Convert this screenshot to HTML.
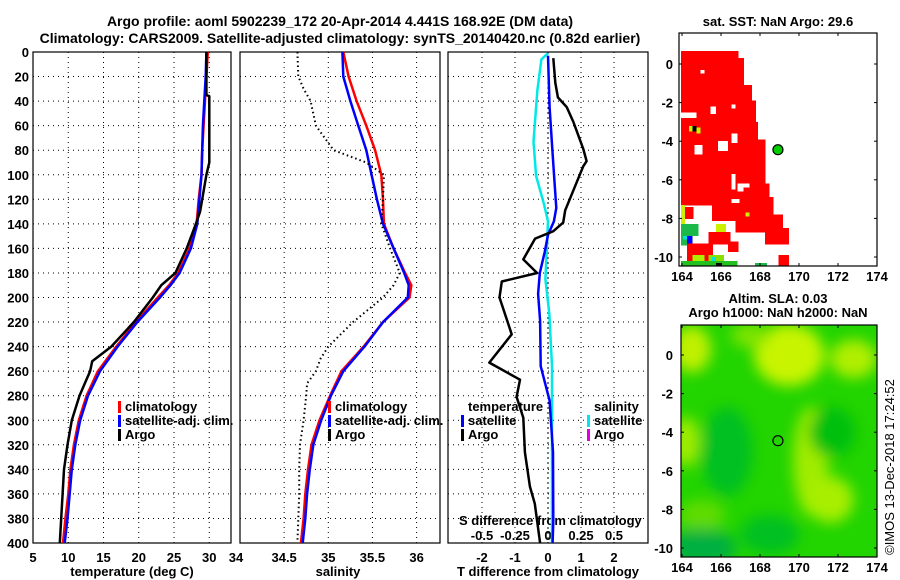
<!DOCTYPE html>
<html><head><meta charset="utf-8">
<style>
html,body{margin:0;padding:0;background:#fff;}
svg{display:block;font-family:"Liberation Sans",sans-serif;font-weight:bold;}
</style></head>
<body>
<svg id="chart" width="900" height="580" viewBox="0 0 900 580" xmlns="http://www.w3.org/2000/svg">
<defs>
<clipPath id="cp1"><rect x="33" y="52" width="198" height="491"/></clipPath>
<clipPath id="cp2"><rect x="240" y="52" width="200" height="491"/></clipPath>
<clipPath id="cp3"><rect x="448" y="52" width="200" height="491"/></clipPath>
<clipPath id="cpm1"><rect x="679" y="33" width="198" height="233"/></clipPath>
<clipPath id="cpm2"><rect x="681" y="325" width="196" height="232"/></clipPath>
<filter id="blur" x="-20%" y="-20%" width="140%" height="140%"><feGaussianBlur stdDeviation="7"/></filter>
</defs>
<text x="340" y="26" font-size="14" text-anchor="middle">Argo profile: aoml 5902239_172 20-Apr-2014 4.441S 168.92E (DM data)</text>
<text x="340" y="43" font-size="14" text-anchor="middle">Climatology: CARS2009. Satellite-adjusted climatology: synTS_20140420.nc (0.82d earlier)</text>
<text x="778" y="26" font-size="13" text-anchor="middle">sat. SST: NaN Argo: 29.6</text>
<text x="778" y="303" font-size="13" text-anchor="middle">Altim. SLA: 0.03</text>
<text x="778" y="317" font-size="13" text-anchor="middle">Argo h1000: NaN h2000: NaN</text>
<text transform="translate(894,467) rotate(-90)" font-size="13" font-weight="normal" text-anchor="middle">©IMOS 13-Dec-2018 17:24:52</text>
<g id="g"></g>
</svg>
<script>
// ---- data ----
const depthTicks=[0,20,40,60,80,100,120,140,160,180,200,220,240,260,280,300,320,340,360,380,400];
const tempTicks=[5,10,15,20,25,30];
const salTicks=[34,34.5,35,35.5,36];
const tdiffTicks=[-2,-1,0,1,2];
const sdiffTicks=[-0.5,-0.25,0,0.25,0.5];
const sdiffLabels=["-0.5","-0.25","0","0.25","0.5"];
const stdDepth=[0,20,40,60,80,100,120,140,160,180,190,200,220,240,260,280,300,320,340,360,380,400];
const tempClim=[29.8,29.6,29.4,29.2,29.0,28.9,28.5,28.2,27.2,25.6,24.3,22.7,19.6,16.8,14.2,12.6,11.5,10.8,10.3,10.0,9.6,9.25];
const tempSat=[29.6,29.5,29.3,29.1,29.0,28.9,28.6,28.3,27.4,25.8,24.5,23.0,19.8,17.0,14.5,12.8,11.7,11.0,10.5,10.2,9.9,9.5];
const argoTDepth=[0,35,36,90,100,120,130,140,160,180,190,200,220,240,252,260,280,300,320,340,360,380,400];
const argoTemp=[29.6,29.6,30.0,30.0,29.6,29.0,28.7,28.1,26.8,25.2,23.2,22.0,19.3,16.1,13.4,13.1,11.6,10.5,9.9,9.4,9.2,9.0,8.8];
const salClim=[35.17,35.23,35.32,35.43,35.53,35.60,35.62,35.63,35.74,35.87,35.94,35.92,35.62,35.40,35.15,35.02,34.90,34.81,34.77,34.74,34.72,34.69];
const salSat=[35.16,35.17,35.25,35.34,35.43,35.49,35.55,35.62,35.74,35.86,35.91,35.90,35.62,35.41,35.17,35.03,34.92,34.83,34.79,34.76,34.74,34.71];
const argoSDepth=[0,20,30,40,60,80,90,100,120,140,160,180,190,200,220,240,250,260,270,280,300,320,340,360,400];
const argoSal=[34.65,34.66,34.72,34.80,34.86,35.06,35.43,35.63,35.62,35.60,35.70,35.81,35.74,35.62,35.28,35.00,34.91,34.86,34.76,34.75,34.72,34.68,34.67,34.67,34.65];
const tdArgoDepth=[5,25,37,45,57,79,89,93,129,139,146,152,169,180,187,200,230,253,267,281,298,326,354,368,400];
const tdArgo=[0.16,0.22,0.30,0.57,0.77,1.07,1.17,1.07,0.52,0.46,0.16,-0.39,-0.75,-0.33,-1.40,-1.47,-1.10,-1.78,-0.85,-0.95,-0.75,-0.70,-0.55,-0.40,-0.24];
const tdSatDepth=[3,45,79,107,127,138,149,163,180,197,219,256,284,326,382,400];
const tdSat=[0,0.05,0.13,0.20,0.25,0.18,0.0,-0.10,-0.25,-0.30,-0.24,-0.22,0.05,0.15,0.16,0.14];
const sdSatDepth=[1,6,31,73,101,124,138,163,185,213,256,298,400];
const sdSat=[0,-0.05,-0.08,-0.11,-0.09,-0.03,0.0,-0.01,-0.02,0.01,0.03,0.03,0.03];
const lonTicks=[164,166,168,170,172,174];
const latTicks=[0,-2,-4,-6,-8,-10];
const argoLon=168.92, argoLat=-4.441;
// SST map cells: [lon0,lat0,lon1,lat1,color]
const sstCells=[
[164,0.67,166.9,-7.3,"#f00"],[166.9,0.3,167.2,-7.3,"#f00"],[167.2,-1.1,167.6,-7.8,"#f00"],[167.6,-1.9,167.8,-8.1,"#f00"],
[167.8,-3,167.9,-8.4,"#f00"],[167.9,-3.9,168.3,-8.4,"#f00"],[168.3,-6.2,168.5,-8.4,"#f00"],[168.5,-6.9,168.7,-8.4,"#f00"],
[168.7,-7.8,169.2,-9.3,"#f00"],[169.2,-8.5,169.5,-9.3,"#f00"],[165.6,-7.3,168.7,-8.1,"#f00"],[166.8,-8.1,168.3,-8.7,"#f00"],
[168.3,-8.4,168.7,-9.3,"#f00"],[165.4,-8.7,166.5,-9.3,"#f00"],[164.3,-9.3,165.6,-10.3,"#f00"],[166.4,-9.2,166.9,-9.7,"#f00"],
[169.0,-9.9,169.5,-10.5,"#f00"],[164.2,-7.4,164.6,-8.0,"#f00"],
[164,-2.5,164.8,-2.8,"#fff"],[165.5,-2.2,165.8,-2.6,"#fff"],[166.6,-3.6,166.9,-4.1,"#fff"],[165.9,-4.0,166.4,-4.5,"#fff"],
[164.7,-4.2,165.1,-4.7,"#fff"],[166.9,-6.2,167.2,-6.6,"#fff"],[166.6,-5.7,166.8,-6.5,"#fff"],[167.1,-6.2,167.5,-6.4,"#fff"],
[166.6,-7.0,167.0,-7.2,"#fff"],[165.0,-0.3,165.2,-0.5,"#fff"],[166.6,-2.1,166.8,-2.3,"#fff"],
[164,-7.3,164.2,-8.3,"#ccf000"],[164.6,-3.2,164.8,-3.5,"#000"],[164.4,-3.2,164.6,-3.5,"#ccf000"],[164.8,-3.3,165.0,-3.6,"#ccf000"],
[164,-8.3,164.9,-8.9,"#1bb84a"],[164,-8.9,164.3,-9.4,"#1bb84a"],[164.3,-8.9,164.6,-9.3,"#0000ff"],[164.1,-8.9,164.3,-9.1,"#00e0e0"],
[165.8,-8.3,166.3,-8.7,"#ccf000"],[167.3,-7.7,167.5,-7.9,"#ccf000"],
[164,-10.2,166.9,-10.5,"#22c020"],[164.6,-9.9,165.2,-10.2,"#aaf000"],[165.4,-9.9,166.2,-10.2,"#88e000"],[165.8,-10.3,166.1,-10.5,"#000"],[165.6,-10.0,165.8,-10.2,"#00e0e0"],[167.8,-10.3,168.4,-10.5,"#1bb84a"]
];
// SLA map patches: [lon, lat, rx(deg), ry(deg), color]
const slaPatches=[
[164.5,0.3,1.0,1.2,"#c0f000"],[169.5,0.0,1.8,1.6,"#c8f400"],[172.8,-0.2,1.2,1.0,"#b0ee00"],[167.5,1.0,1.0,0.6,"#80e400"],
[170.6,-5.5,0.9,2.8,"#a0ec00"],[171.6,-7.5,1.2,1.2,"#a8ee00"],[164.2,-4.5,0.7,1.3,"#a0ec00"],[165,-8.3,1.2,0.8,"#60dc00"],
[166.3,-5.0,1.3,2.3,"#00c020"],[171.7,-4.0,1.2,1.3,"#00c010"],[165,-10,1.8,1.0,"#00b040"],[168.5,-9.3,1.5,1.0,"#00c020"]
];
// ---- helpers ----
const NS="http://www.w3.org/2000/svg";
const G=document.getElementById('g');
function mk(tag,attrs,parent){const e=document.createElementNS(NS,tag);for(const k in attrs)e.setAttribute(k,attrs[k]);(parent||G).appendChild(e);return e;}
const yD=d=>52+d*1.2275;
const xT=t=>33+(t-5)*7.05;
const xS=s=>240+(s-34)*88.3;
const xTd=v=>548+v*33;
const xSd=v=>548+v*132;
const lonX=l=>682+(l-164)*19.5;
const latY1=l=>64-l*19.3;
const latY2=l=>355-l*19.3;
function pts(xs,ys,fx){return xs.map((v,i)=>fx(v).toFixed(1)+","+yD(ys[i]).toFixed(1)).join(" ");}

function panel(x0,x1,ticks,fx,name){
  depthTicks.forEach(d=>{if(d>0&&d<400){const l=mk('line',{x1:x0,x2:x1,y1:yD(d),y2:yD(d),stroke:'#000','stroke-width':1,'stroke-dasharray':'1,4'});
  
  }});
  ticks.forEach(t=>{const x=fx(t);if(x>x0+1&&x<x1-1){const l=mk('line',{x1:x,x2:x,y1:52,y2:543,stroke:'#000','stroke-width':1,'stroke-dasharray':'1,4'});
  
  }});
  const r=mk('rect',{x:x0,y:52,width:x1-x0,height:491,fill:'none',stroke:'#000','stroke-width':1.2});
  
  
}
function line(xs,ys,fx,color,w,name,clip,dash){
  const a={points:pts(xs,ys,fx),fill:'none',stroke:color,'stroke-width':w,'clip-path':'url(#'+clip+')','stroke-linejoin':'round'};
  if(dash)a['stroke-dasharray']=dash;
  const p=mk('polyline',a);
  
  
}
function txt(x,y,s,size,anchor,name,color){
  const t=mk('text',{x:x,y:y,'font-size':size,'text-anchor':anchor||'start',fill:color||'#000'});
  t.textContent=s;
  
  
  return t;
}
function legBar(x,y,color,name){
  const r=mk('rect',{x:x,y:y-10,width:3,height:12,fill:color});
  
  
}
// ---- panels ----
panel(33,231,tempTicks,xT,'temp-panel');
panel(240,440,salTicks,xS,'sal-panel');
panel(448,648,tdiffTicks,xTd,'diff-panel');
depthTicks.forEach(d=>txt(29,yD(d)+5,String(d),13,'end','depth-tick-label'));
tempTicks.forEach(t=>txt(xT(t),562,String(t),13,'middle','temp-tick-label'));
txt(236,562,"34",13,'middle','sal-tick-label');
salTicks.slice(1).forEach(s=>txt(xS(s),562,String(s),13,'middle','sal-tick-label'));
tdiffTicks.forEach(t=>txt(xTd(t),562,String(t),13,'middle','tdiff-tick-label'));
sdiffTicks.forEach((t,i)=>txt(xSd(t),540,sdiffLabels[i],13,'middle','sdiff-tick-label'));
txt(459,525,"S difference from climatology",13,'start','sdiff-axis-title');
txt(132,576,"temperature (deg C)",13,'middle','temp-axis-title');
txt(338,576,"salinity",13,'middle','sal-axis-title');
txt(548,576,"T difference from climatology",13,'middle','tdiff-axis-title');
// series
line(tempClim,stdDepth,xT,'#f00',2.5,'temp-climatology-line','cp1');
line(tempSat,stdDepth,xT,'#00f',2.5,'temp-satellite-line','cp1');
line(argoTemp,argoTDepth,xT,'#000',2.5,'temp-argo-line','cp1');
line(salClim,stdDepth,xS,'#f00',2.5,'sal-climatology-line','cp2');
line(salSat,stdDepth,xS,'#00f',2.5,'sal-satellite-line','cp2');
line(argoSal,argoSDepth,xS,'#000',2,'sal-argo-line','cp2','1.5,3');
const z=mk('line',{x1:548,x2:548,y1:52,y2:543,stroke:'#000','stroke-width':1,'stroke-dasharray':'2,3'});


line(sdSat,sdSatDepth,xSd,'#00e8e8',2.5,'sdiff-satellite-line','cp3');
line(tdSat,tdSatDepth,xTd,'#00f',2.5,'tdiff-satellite-line','cp3');
line(tdArgo,tdArgoDepth,xTd,'#000',2.5,'tdiff-argo-line','cp3');
// legends
[[118,411,'#f00','climatology'],[118,425,'#00f','satellite-adj. clim.'],[118,439,'#000','Argo']].forEach(l=>{legBar(l[0],l[1],l[2],'temp-legend-swatch');txt(l[0]+7,l[1],l[3],13,'start','temp-legend-entry');});
[[328,411,'#f00','climatology'],[328,425,'#00f','satellite-adj. clim.'],[328,439,'#000','Argo']].forEach(l=>{legBar(l[0],l[1],l[2],'sal-legend-swatch');txt(l[0]+7,l[1],l[3],13,'start','sal-legend-entry');});
txt(468,411,"temperature",13,'start','diff-legend-temp-title');
legBar(461,425,'#00f','diff-legend-swatch');txt(468,425,"satellite",13,'start','diff-legend-entry');
legBar(461,439,'#000','diff-legend-swatch');txt(468,439,"Argo",13,'start','diff-legend-entry');
txt(594,411,"salinity",13,'start','diff-legend-sal-title');
legBar(587,425,'#00e8e8','diff-legend-swatch');txt(594,425,"satellite",13,'start','diff-legend-entry');
legBar(587,439,'#e000e0','diff-legend-swatch');txt(594,439,"Argo",13,'start','diff-legend-entry');
// ---- maps ----
function mapFrame(x0,y0,w,h,latY,name){
  const r=mk('rect',{x:x0,y:y0,width:w,height:h,fill:'none',stroke:'#000','stroke-width':1.2});
  
  
  lonTicks.forEach(l=>{const x=lonX(l);mk('line',{x1:x,x2:x,y1:y0,y2:y0+3,stroke:'#000'});mk('line',{x1:x,x2:x,y1:y0+h,y2:y0+h-3,stroke:'#000'});
    txt(x,y0+h+15,String(l),13,'middle',name+'-lon-label');});
  latTicks.forEach(l=>{const y=latY(l);mk('line',{x1:x0,x2:x0+3,y1:y,y2:y,stroke:'#000'});mk('line',{x1:x0+w,x2:x0+w-3,y1:y,y2:y,stroke:'#000'});
    txt(673,y+5,String(l),13,'end',name+'-lat-label');});
}
const m1=mk('g',{'clip-path':'url(#cpm1)','shape-rendering':'crispEdges'});


sstCells.forEach(c=>{const x=lonX(c[0])-1,y=latY1(c[1]);const pad=c[4]==='#f00'?0.8:0;const r=mk('rect',{x:x,y:y,width:lonX(c[2])-lonX(c[0])+pad,height:latY1(c[3])-y+pad,fill:c[4]},m1);
  
  });
mapFrame(679,33,198,233,latY1,'sst-map');
const d1=mk('circle',{cx:lonX(argoLon),cy:latY1(argoLat),r:5,fill:'#00cc00',stroke:'#000','stroke-width':1.2});


const m2=mk('g',{'clip-path':'url(#cpm2)'});


mk('rect',{x:681,y:325,width:196,height:232,fill:'#22d400'},m2);
const pg=mk('g',{filter:'url(#blur)'},m2);
slaPatches.forEach(p=>{const e=mk('ellipse',{cx:lonX(p[0]),cy:latY2(p[1]),rx:p[2]*19.5,ry:p[3]*19.3,fill:p[4]},pg);
  
  });
mapFrame(681,325,196,232,latY2,'sla-map');
const d2=mk('circle',{cx:lonX(argoLon),cy:latY2(argoLat),r:5,fill:'none',stroke:'#000','stroke-width':1.2});


</script>
</body></html>
